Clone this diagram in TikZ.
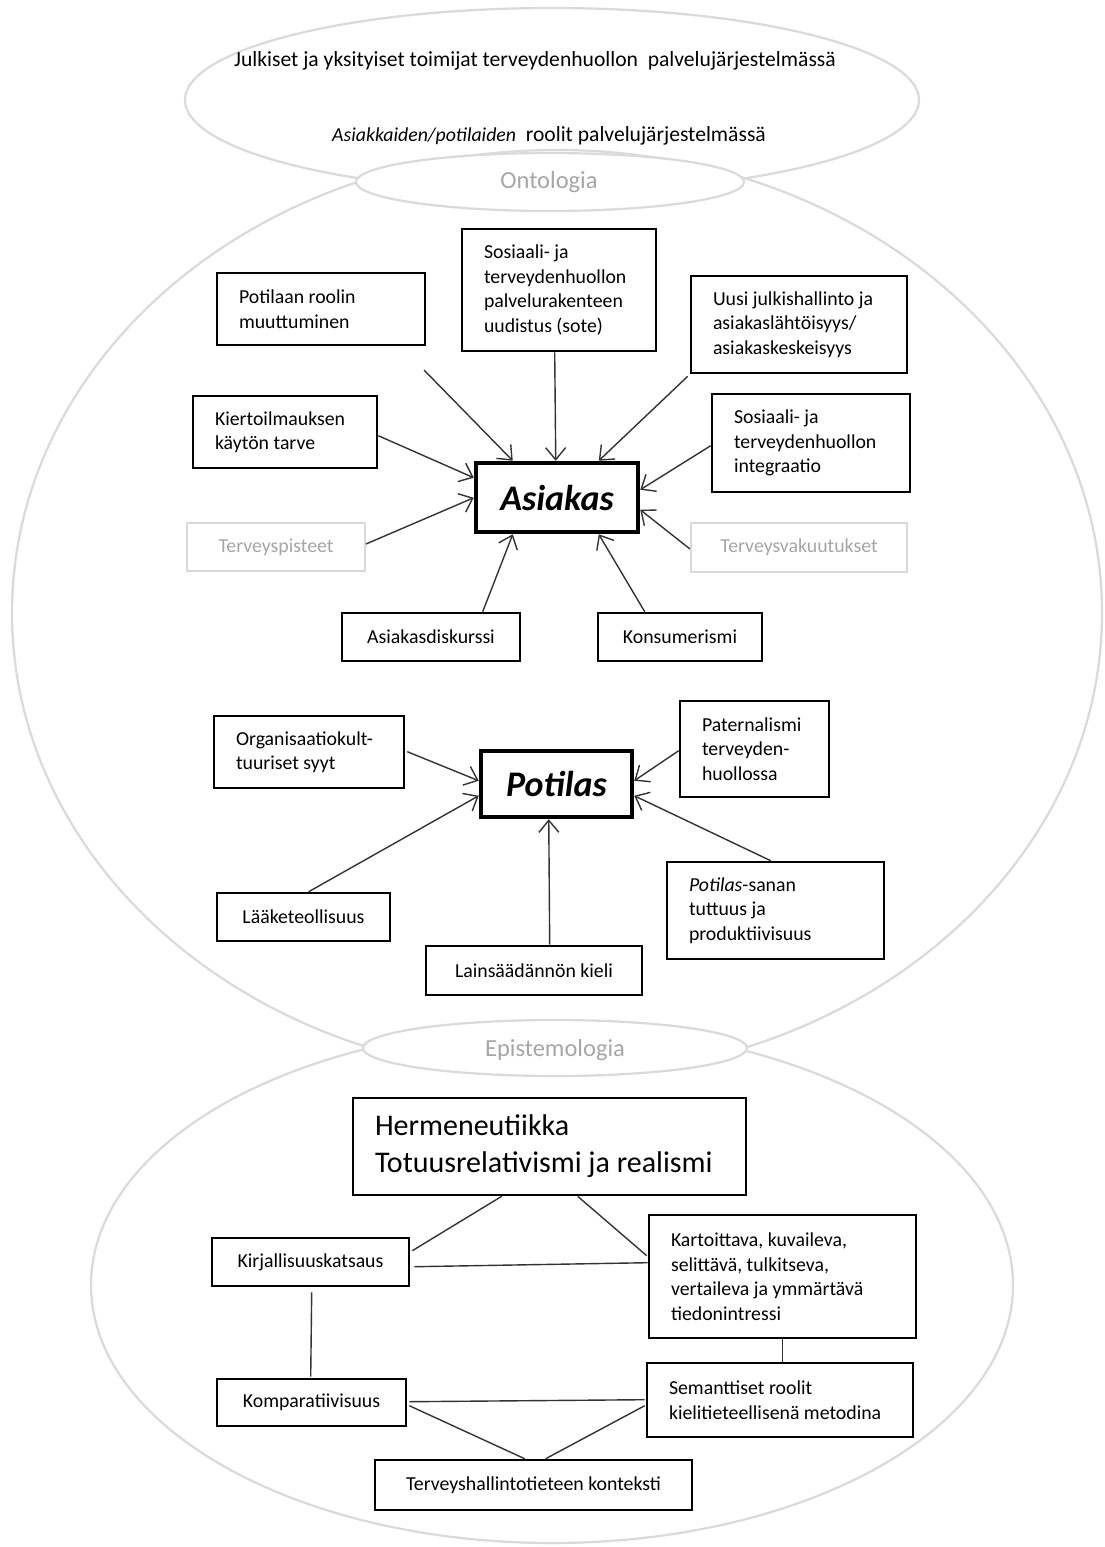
\documentclass[tikz,border=0pt]{standalone}
\usepackage{fontspec}
\setmainfont{Carlito}
\usetikzlibrary{arrows.meta,calc}
\definecolor{ellgray}{HTML}{DADADA}
\definecolor{lblgray}{HTML}{A6A6A6}
\definecolor{boxgray}{HTML}{D9D9D9}
\definecolor{darkline}{HTML}{333333}
\newcommand\bxfont{\fontsize{19.8}{24.5}\selectfont}
\newcommand\topfont{\fontsize{21.6}{26}\selectfont}
\newcommand\keyfont{\fontsize{36}{40}\selectfont\bfseries\itshape}
\newcommand\bigfont{\fontsize{30}{37}\selectfont}
\newcommand\lblfont{\fontsize{24.5}{28}\selectfont}
\begin{document}
\begin{tikzpicture}[x=1pt,y=-1pt,
  ell/.style={draw=ellgray, line width=2.2pt},
  lblell/.style={draw=ellgray, line width=2.2pt, fill=white},
  lbltext/.style={text=lblgray, font=\lblfont, inner sep=0pt},
  toptext/.style={font=\topfont, inner sep=0pt},
  box/.style={draw=black, line width=2.6pt, fill=white, inner xsep=22pt, inner ysep=2pt, align=flush left, font=\bxfont},
  cbox/.style={box, align=center},
  gbox/.style={cbox, draw=boxgray, text=lblgray, line width=2pt},
  key/.style={draw=black, line width=4.5pt, fill=white, inner sep=0pt, font=\keyfont},
  arr/.style={draw=darkline, line width=1.4pt, -{Straight Barb[length=12pt,width=20pt]}},
  lnk/.style={draw=darkline, line width=1.4pt}
]
\fill[white] (0,0) rectangle (1104,1547);
\useasboundingbox (0,0) rectangle (1104,1547);

% large background ellipses
\draw[ell] (552,100) ellipse [x radius=367pt, y radius=92pt];
\draw[ell] (557,613) ellipse [x radius=545pt, y radius=463pt];
\draw[ell] (552,1285) ellipse [x radius=461pt, y radius=258pt];

% labelled small ellipses
\draw[lblell] (550,182) ellipse [x radius=194pt, y radius=29pt];
\draw[lblell] (555,1048) ellipse [x radius=192pt, y radius=28pt];
\node[lbltext] (onto) at (549,182) {Ontologia};
\node[lbltext] (epi) at (555,1050) {Epistemologia};

% top texts
\node[toptext] (t1) at (535,61) {Julkiset ja yksityiset toimijat terveydenhuollon~ palvelujärjestelmässä};
\node[toptext] (t2) at (549,136) {{\bxfont\itshape Asiakkaiden/potilaiden}~ roolit palvelujärjestelmässä};

% Asiakas group
\node[key, minimum width=162pt, minimum height=69pt] (asiakas) at (557,497.5) {Asiakas};
\node[box, text width=164pt, minimum height=72pt] (potrole) at (321,309) {Potilaan roolin\\muuttuminen};
\node[box, text width=150pt, minimum height=122pt] (sote) at (559,290) {Sosiaali- ja\\terveydenhuollon\\palvelurakenteen\\uudistus (sote)};
\node[box, text width=172pt, minimum height=97pt] (uusi) at (799,324.5) {Uusi julkishallinto ja\\asiakaslähtöisyys/\\asiakaskeskeisyys};
\node[box, text width=140pt, minimum height=72pt] (kierto) at (285,432) {Kiertoilmauksen\\käytön tarve};
\node[box, text width=154pt, minimum height=98pt] (integ) at (811,443) {Sosiaali- ja\\terveydenhuollon\\integraatio};
\node[gbox, minimum width=178pt, minimum height=48pt] (tpist) at (276,547) {Terveyspisteet};
\node[gbox, minimum width=216pt, minimum height=49pt] (tvak) at (799,547.5) {Terveysvakuutukset};
\node[cbox, minimum width=178pt, minimum height=48pt] (adisk) at (431,637) {Asiakasdiskurssi};
\node[cbox, minimum width=164pt, minimum height=48pt] (konsu) at (680,637) {Konsumerismi};
\coordinate (free) at (424,370);

% Potilas group
\node[key, minimum width=151pt, minimum height=66pt] (potilas) at (556.5,784) {Potilas};
\node[box, text width=146pt, minimum height=72pt] (org) at (309,752) {Organisaatiokult-\\tuuriset syyt};
\node[box, text width=105pt, minimum height=96pt] (pater) at (754.5,749) {Paternalismi\\terveyden-\\huollossa};
\node[cbox, minimum width=173pt, minimum height=48pt] (laake) at (303.5,917) {Lääketeollisuus};
\node[cbox, minimum width=216pt, minimum height=49pt] (lains) at (534,970.5) {Lainsäädännön kieli};
\node[box, text width=173pt, minimum height=97pt] (psanan) at (775.5,910.5) {\textit{Potilas}-sanan\\tuttuus ja\\produktiivisuus};

% Epistemology group
\node[box, inner ysep=4pt, text width=349pt, minimum height=97pt, font=\bigfont] (herm) at (549.5,1146.5) {Hermeneutiikka\\Totuusrelativismi ja realismi};
\node[cbox, minimum width=197pt, minimum height=48pt] (kirj) at (310.5,1262) {Kirjallisuuskatsaus};
\node[box, text width=223pt, minimum height=123pt] (kart) at (782.5,1276.5) {Kartoittava, kuvaileva,\\selittävä, tulkitseva,\\vertaileva ja ymmärtävä\\tiedonintressi};
\node[cbox, minimum width=189pt, minimum height=47pt] (komp) at (311.5,1402.5) {Komparatiivisuus};
\node[box, text width=222pt, minimum height=74pt] (sem) at (780,1400) {Semanttiset roolit\\kielitieteellisenä metodina};
\node[cbox, minimum width=317pt, minimum height=50pt] (terv) at (533.5,1485) {Terveyshallintotieteen konteksti};

% arrows to Asiakas
\draw[arr] (free) -- ($(asiakas.north west)+(39,0)$);
\draw[arr] ($(sote.south west)+(94,0)$) -- ($(asiakas.north west)+(82,0)$);
\draw[arr] ($(uusi.south west)+(-2,2)$) -- ($(asiakas.north west)+(125,0)$);
\draw[arr] ($(kierto.north east)+(0,41)$) -- ($(asiakas.north west)+(0,17)$);
\draw[arr] ($(integ.north west)+(0,53)$) -- ($(asiakas.north east)+(0,29)$);
\draw[arr] ($(tpist.north east)+(0,22)$) -- ($(asiakas.north west)+(0,37)$);
\draw[arr] ($(tvak.north west)+(0,27)$) -- ($(asiakas.north east)+(0,49)$);
\draw[arr] ($(adisk.north west)+(142,0)$) -- ($(asiakas.south west)+(39,0)$);
\draw[arr] ($(konsu.north west)+(48,0)$) -- ($(asiakas.south west)+(125,0)$);

% arrows to Potilas
\draw[arr] ($(org.north east)+(2,37)$) -- ($(potilas.north west)+(0,32)$);
\draw[arr] ($(pater.north west)+(0,51)$) -- ($(potilas.north east)+(0,32)$);
\draw[arr] ($(laake.north west)+(93,0)$) -- ($(potilas.north west)+(0,47)$);
\draw[arr] ($(lains.north west)+(125,0)$) -- ($(potilas.south west)+(70,0)$);
\draw[arr] ($(psanan.north west)+(105,0)$) -- ($(potilas.north east)+(0,47)$);

% epistemology links
\draw[lnk] ($(herm.south west)+(150,0)$) -- ($(kirj.north east)+(2,14)$);
\draw[lnk] ($(herm.south west)+(226,0)$) -- ($(kart.north west)+(-1,42)$);
\draw[lnk] ($(kirj.north east)+(4,30)$) -- ($(kart.north west)+(0,49)$);
\draw[lnk] ($(kirj.south west)+(101,5)$) -- ($(komp.north west)+(95,-1)$);
\draw[lnk] ($(kart.south west)+(135,0)$) -- ($(sem.north west)+(137,0)$);
\draw[lnk] ($(komp.north east)+(2,24)$) -- ($(sem.north west)+(-1,38)$);
\draw[lnk] ($(komp.north east)+(2,28)$) -- ($(terv.north west)+(151,0)$);
\draw[lnk] ($(sem.north west)+(-1,44)$) -- ($(terv.north west)+(172,0)$);
\end{tikzpicture}
\end{document}
